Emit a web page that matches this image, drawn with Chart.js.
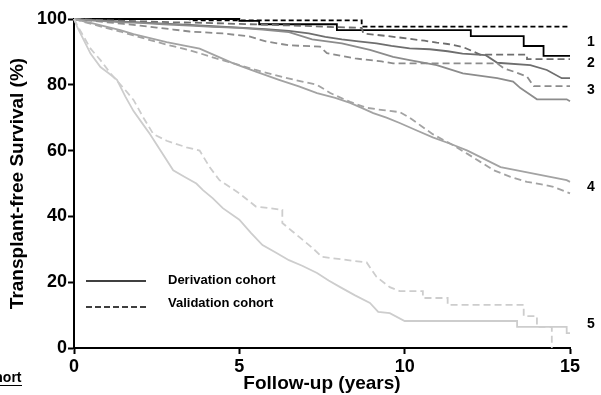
<!DOCTYPE html>
<html>
<head>
<meta charset="utf-8">
<script src="https://cdn.jsdelivr.net/npm/chart.js@4.4.1/dist/chart.umd.min.js"></script>
<style>
  html, body { margin: 0; padding: 0; background: #fff; }
  #wrap { width: 601px; height: 395px; }
</style>
</head>
<body>
<div id="wrap"><canvas id="c" width="601" height="395"></canvas></div>
<script>
// ---- Data (steps given as corner pairs) ----
const xTicks = [0, 5, 10, 15];
const yTicks = [0, 20, 40, 60, 80, 100];

const g1DerivT = [0, 5.0, 5.0, 5.6, 5.6, 7.95, 7.95, 12.0, 12.0, 13.6, 13.6, 14.2, 14.2, 15];
const g1DerivS = [100, 100, 99.4, 99.4, 98.4, 98.4, 96.6, 96.6, 94.8, 94.8, 91.8, 91.8, 88.8, 88.8];
const g1ValidT = [0, 3.5, 3.5, 8.7, 8.7, 15];
const g1ValidS = [100, 100, 99.6, 99.6, 97.7, 97.7];

const g2DerivT = [0, 0.5, 1, 1.5, 2, 2.7, 3.5, 4.2, 5, 5.8, 6.5, 7.1, 7.6, 8.1, 8.6, 9.15, 9.6, 10.15, 10.76, 11.3, 11.75, 12.45, 12.8, 13.8, 14.3, 14.75, 15];
const g2DerivS = [100, 99.7, 99.5, 99.2, 99, 98.6, 98.2, 97.8, 97.4, 96.9, 96.4, 95.6, 94.6, 93.8, 93.2, 92.6, 91.8, 91.1, 90.8, 90.2, 89.5, 89, 86.7, 86, 84.5, 82, 82];
const g2ValidT = [0, 1, 2, 3, 4, 5, 6, 7, 8, 8.7, 8.75, 9.4, 10.07, 10.6, 10.97, 11.3, 11.76, 12.28, 13.7, 13.7, 15];
const g2ValidS = [100, 99.6, 99.3, 99, 98.8, 98.5, 98.2, 97.9, 97.5, 97.3, 95.6, 94.9, 94.1, 93.4, 92.8, 92.4, 91.5, 89.2, 89.2, 87.8, 87.8];

const g3DerivT = [0, 0.5, 1, 1.5, 2, 2.7, 3.5, 4.2, 5, 5.7, 6.5, 7.2, 8.1, 8.95, 9.65, 10.15, 10.97, 11.28, 11.76, 12.8, 13.28, 13.5, 13.8, 14.0, 14.9, 15];
const g3DerivS = [100, 99.6, 99.3, 99, 98.8, 98.4, 98, 97.6, 97.3, 96.8, 96, 93.8, 92.6, 90.6, 88.5, 87.5, 86, 85, 83.5, 82, 81, 79, 77, 75.6, 75.6, 75];
const g3ValidT = [0, 0.5, 1, 1.5, 2, 2.5, 3, 3.5, 4.5, 5.3, 5.8, 6.5, 7.44, 7.65, 8.5, 9.3, 9.65, 12.8, 13.0, 13.3, 13.7, 13.9, 15];
const g3ValidS = [100, 99.5, 99, 98.5, 98, 97.4, 96.8, 96.2, 95.6, 94.7, 93.2, 92, 91.6, 89.6, 88, 87.1, 86.5, 86.5, 85, 84, 82.5, 79.6, 79.6];

const g4DerivT = [0, 0.3, 0.6, 1, 1.4, 1.8, 2.3, 2.8, 3.3, 3.8, 4.3, 4.8, 5.5, 6.2, 6.8, 7.35, 7.9, 8.35, 8.7, 9.05, 9.45, 9.85, 10.35, 10.85, 11.4, 11.9, 12.4, 12.9, 13.4, 13.9, 14.4, 14.9, 15];
const g4DerivS = [100, 99.3, 98.6, 97.6, 96.6, 95.4, 94.2, 93, 92, 91, 88.8, 86.6, 84, 81.5, 79.5, 77.5, 76, 74.5, 73, 71.4, 70, 68.4, 66.2, 64, 62, 60, 57.5, 55, 54, 53, 52, 51, 50.5];
const g4ValidT = [0, 0.3, 0.6, 1, 1.4, 1.8, 2.3, 2.8, 3.3, 3.8, 4.3, 4.8, 5.5, 6.3, 6.8, 7.35, 7.75, 8.35, 8.85, 9.35, 9.85, 10.15, 10.5, 10.85, 11.4, 11.9, 12.3, 12.7, 13.2, 13.7, 14.1, 14.5, 15];
const g4ValidS = [100, 99.1, 98.3, 97.2, 96.2, 95, 93.6, 92.2, 91, 89.6, 88, 86.6, 84.5, 82.4, 81.2, 80, 77.5, 74.8, 73, 72.3, 71.7, 70, 67.5, 65, 62, 59, 56.5, 54, 52, 50.5, 49.8, 49, 47];

const g5DerivT = [0, 0.1, 0.3, 0.5, 0.8, 1.05, 1.3, 1.55, 1.8, 2.05, 2.3, 2.65, 3, 3.35, 3.7, 3.9, 4.2, 4.5, 5, 5.35, 5.7, 6.1, 6.5, 6.9, 7.35, 7.7, 8.05, 8.5, 8.95, 9.2, 9.55, 10, 13.4, 13.4, 14.9, 14.9, 15];
const g5DerivS = [100, 97.5, 93.5, 89.5, 85.4, 83.5, 81.5, 76.5, 72, 68.5, 65, 59.5, 54, 52, 50, 48, 45.5, 42.5, 39, 35, 31.3, 29, 26.7, 25, 22.8, 20.5, 18.5, 16, 13.7, 11, 10.6, 8.2, 8.2, 6.4, 6.4, 4.5, 4.5];
const g5ValidT = [0, 0.1, 0.3, 0.5, 0.8, 1.1, 1.5, 1.8, 2.1, 2.4, 2.8, 3.4, 3.8, 4.1, 4.4, 4.7, 5, 5.5, 6.3, 6.3, 6.6, 6.9, 7.2, 7.5, 8.85, 9.15, 9.55, 9.85, 10.55, 10.55, 11.3, 11.3, 13.6, 13.6, 14.0, 14.0, 14.45, 14.45];
const g5ValidS = [100, 98, 94.5, 91, 87.5, 83.5, 79, 75.4, 70, 65, 63, 61, 60, 55, 51, 49, 47, 43, 42, 38, 35.5, 33, 30.5, 27.7, 26, 21.6, 18.5, 17.3, 17.3, 15.2, 15.2, 13.1, 13.1, 9.7, 9.7, 6.4, 6.4, 0];

const groupLabels = ['1', '2', '3', '4', '5'];
const groupLabelY = [93, 86.6, 78.4, 48.9, 7.3];
const legendNames = ['Derivation cohort', 'Validation cohort'];
const groupColors = ['#000000', '#6e6e6e', '#8c8c8c', '#a3a3a3', '#cdcdcd'];

// ---- Build datasets ----
function pts(t, s) { return t.map((v, i) => ({ x: v, y: s[i] })); }
const series = [
  [g1DerivT, g1DerivS, g1ValidT, g1ValidS],
  [g2DerivT, g2DerivS, g2ValidT, g2ValidS],
  [g3DerivT, g3DerivS, g3ValidT, g3ValidS],
  [g4DerivT, g4DerivS, g4ValidT, g4ValidS],
  [g5DerivT, g5DerivS, g5ValidT, g5ValidS]
];
const datasets = [];
series.slice().reverse().forEach((s, ri) => {
  const gi = series.length - 1 - ri;
  const col = groupColors[gi];
  datasets.push({
    label: 'Group ' + groupLabels[gi] + ' derivation',
    data: pts(s[0], s[1]), borderColor: col, borderWidth: 1.8,
    tension: 0, pointRadius: 0, fill: false, clip: 4
  });
  datasets.push({
    label: 'Group ' + groupLabels[gi] + ' validation',
    data: pts(s[2], s[3]), borderColor: col, borderWidth: 1.8,
    borderDash: gi === 0 ? [5, 3] : [7, 4],
    tension: 0, pointRadius: 0, fill: false, clip: 4
  });
});

const FONT = '"Liberation Sans", Arial, Helvetica, sans-serif';

const annotate = {
  id: 'annotate',
  afterDraw(chart) {
    const ctx = chart.ctx;
    const ys = chart.scales.y;
    const area = chart.chartArea;
    ctx.save();
    ctx.fillStyle = '#000';
    ctx.font = 'bold 14px ' + FONT;
    ctx.textAlign = 'center';
    ctx.textBaseline = 'middle';
    groupLabels.forEach((l, i) => {
      ctx.fillText(l, area.right + 21, ys.getPixelForValue(groupLabelY[i]));
    });
    const lx = area.left + 12, ly1 = area.top + 262, ly2 = area.top + 288;
    ctx.strokeStyle = '#000';
    ctx.lineWidth = 1.5;
    ctx.beginPath(); ctx.moveTo(lx, ly1); ctx.lineTo(lx + 60, ly1); ctx.stroke();
    ctx.setLineDash([6, 3]);
    ctx.beginPath(); ctx.moveTo(lx, ly2); ctx.lineTo(lx + 60, ly2); ctx.stroke();
    ctx.setLineDash([]);
    ctx.font = 'bold 13px ' + FONT;
    ctx.textAlign = 'left';
    ctx.fillText(legendNames[0], lx + 82, ly1 - 1);
    ctx.fillText(legendNames[1], lx + 82, ly2 - 4);
    ctx.textAlign = 'right';
    ctx.font = 'bold 14px ' + FONT;
    ctx.fillText('cohort', 21.5, 378);
    ctx.lineWidth = 1;
    ctx.beginPath(); ctx.moveTo(0, 385.5); ctx.lineTo(22, 385.5); ctx.stroke();
    ctx.restore();
  }
};

new Chart(document.getElementById('c'), {
  type: 'line',
  data: { datasets },
  plugins: [annotate],
  options: {
    responsive: false,
    animation: false,
    events: [],
    layout: { padding: { top: 19, right: 31, left: 0, bottom: 0 } },
    plugins: { legend: { display: false }, tooltip: { enabled: false } },
    scales: {
      x: {
        type: 'linear', min: 0, max: 15,
        afterBuildTicks: s => { s.ticks = xTicks.map(v => ({ value: v })); },
        afterFit: s => { s.height = 47; },
        ticks: { color: '#000', font: { family: FONT, size: 18, weight: 'bold' }, padding: 2, maxRotation: 0 },
        grid: { drawOnChartArea: false, drawTicks: true, tickLength: 6, tickWidth: 2, tickColor: '#000' },
        border: { display: true, color: '#000', width: 2 },
        title: { display: true, text: 'Follow-up (years)', color: '#000', font: { family: FONT, size: 19, weight: 'bold' }, padding: { top: 0, bottom: 0 } }
      },
      y: {
        type: 'linear', min: 0, max: 100,
        afterBuildTicks: s => { s.ticks = yTicks.map(v => ({ value: v })); },
        afterFit: s => { s.width = 74; },
        ticks: { color: '#000', font: { family: FONT, size: 18, weight: 'bold' }, padding: 1 },
        grid: { drawOnChartArea: false, drawTicks: true, tickLength: 6, tickWidth: 2, tickColor: '#000' },
        border: { display: true, color: '#000', width: 2 },
        title: { display: true, text: 'Transplant-free Survival (%)', color: '#000', font: { family: FONT, size: 19, weight: 'bold' }, padding: { top: 6, bottom: 0 } }
      }
    }
  }
});
</script>
</body>
</html>
